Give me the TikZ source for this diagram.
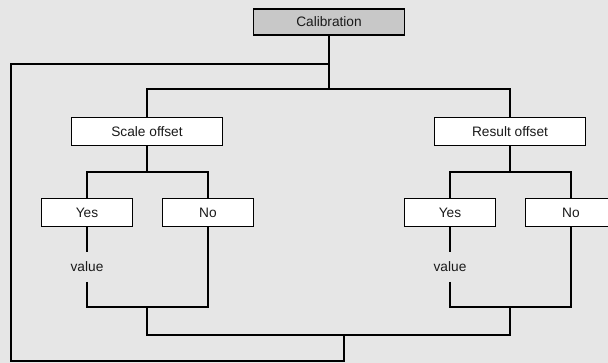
\documentclass[tikz,border=0pt]{standalone}
\usepackage{fontspec}
\setmainfont{Liberation Sans}
\usepackage{tikz}
\usetikzlibrary{positioning}
\definecolor{bggray}{HTML}{E6E6E6}
\definecolor{topgray}{HTML}{C8C8C8}
\definecolor{txtgray}{HTML}{1A1A1A}

\begin{document}
\begin{tikzpicture}[
  x=1pt, y=-1pt,
  line width=1.8pt,
  box/.style={rectangle, draw=black, fill=white, line width=1.8pt,
    minimum width=91pt, minimum height=28pt, inner sep=0pt,
    text=txtgray, font=\fontsize{13.7}{16}\selectfont},
  widebox/.style={box, minimum width=151pt},
  topbox/.style={widebox, fill=topgray, minimum height=26pt},
  lbl/.style={inner sep=0pt, minimum height=28pt, text=txtgray,
    font=\fontsize{13.7}{16}\selectfont}
]

% ---- Canvas ----
\fill[bggray] (0,0) rectangle (608,363);
\clip (0,0) rectangle (608,363);

% ---- Boxes ----
\node[topbox] (cal) at (329,22) {Calibration};

\node[widebox] (scale) at (147,131.5) {Scale offset};
\node[widebox] (result) at (510,131.5) {Result offset};

\node[box] (yes1) at (87,212.5) {Yes};
\node[box] (no1) at (208,212.5) {No};
\node[box] (yes2) at (450,212.5) {Yes};
\node[box] (no2) at (571,212.5) {No};

\node[lbl] (val1) at (87,267) {value};
\node[lbl] (val2) at (450,267) {value};

% ---- Junctions ----
\coordinate (back) at (329,64);
\coordinate (split) at (329,89);
\coordinate (s1) at (147,172);
\coordinate (s2) at (510,172);
\coordinate (m1) at (147,307);
\coordinate (m2) at (510,307);
\coordinate (bot) at (344,335);
\coordinate (corner) at (11,361);

% ---- Top tree ----
\draw (cal.south) -- (split);
\draw (scale.north) |- (split) -| (result.north);

% ---- Subtrees ----
\draw (scale.south) -- (s1);
\draw (yes1.north) |- (s1) -| (no1.north);
\draw (result.south) -- (s2);
\draw (yes2.north) |- (s2) -| (no2.north);

\draw (yes1.south) -- (val1.north);
\draw (yes2.south) -- (val2.north);
\draw (val1.south) |- (m1) -| (no1.south);
\draw (val2.south) |- (m2) -| (no2.south);

% ---- Merge and loop back ----
\draw (m1) -- (m1 |- bot) -- (m2 |- bot) -- (m2);
\draw (back) -| (corner) -| (bot);

\end{tikzpicture}
\end{document}
